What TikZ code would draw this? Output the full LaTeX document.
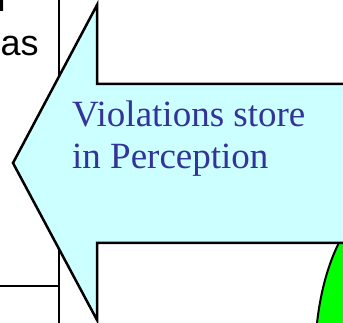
\documentclass[tikz,border=0pt]{standalone}
\usepackage{fontspec}
\setmainfont{Liberation Serif}
\newfontfamily\arialfont{Liberation Sans}
\definecolor{arrowfill}{HTML}{CCFFFF}
\definecolor{textblue}{HTML}{333399}
\definecolor{blobgreen}{HTML}{00FF00}
\begin{document}
\begin{tikzpicture}[x=1pt,y=-1pt]
    \tikzset{frame/.style = {line width=2.5pt,draw=black}, bigarrow/.style = {line width=2.5pt,draw=black,fill=arrowfill,line join=miter},
      label/.style = {inner sep=0pt,anchor=base west,text=textblue,font=\fontsize{37}{42}\selectfont},
      boxtext/.style = {inner sep=0pt,anchor=base west,font=\arialfont\fontsize{36}{40}\selectfont}}
    \useasboundingbox (0,0) rectangle (343,323);
    % box on the left
    \draw[frame] (59,0) -- (59,323);
    \draw[frame] (0,286) -- (59,286);
    \node[boxtext] (wordend) at (-2.5,12) {l};
    \node[boxtext] (wordas) at (0.5,56) {as};
    % green blob behind the arrow
    \draw[line width=2pt,fill=blobgreen] (390,360) ellipse [x radius=75, y radius=160];
    % the arrow
    \draw[bigarrow] (360,84) -- (97,84) -- (97,5) -- (13,163) -- (97,320) -- (97,243) -- (360,243);
    \node[label] (lineone) at (72,127) {Violations store};
    \node[label] (linetwo) at (72,169) {in Perception};
\end{tikzpicture}
\end{document}
